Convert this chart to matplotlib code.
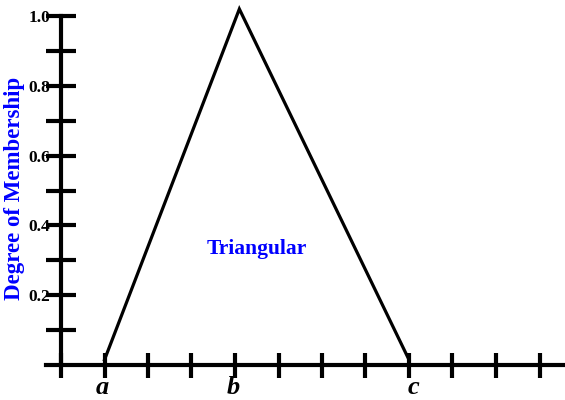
import matplotlib
matplotlib.use("Agg")
import matplotlib.pyplot as plt
import numpy as np

# membership function points (a, b, c)
tri_x = [1, 4.1, 8]
tri_y = [0.015, 1.02, 0.015]

x_ticks = list(range(0, 12))
x_names = ['a', 'b', 'c']
x_name_pos = [0.95, 3.95, 8.1]

y_major = [0.2, 0.4, 0.6, 0.8, 1.0]
y_labels = ['0.2', '0.4', '0.6', '0.8', '1.0']
y_minor = [0.1, 0.3, 0.5, 0.7, 0.9]

plt.rcParams['font.family'] = ['Liberation Serif', 'DejaVu Serif']

fig = plt.figure(figsize=(5.65, 4.0), dpi=100)
ax = fig.add_axes([0, 0, 1, 1])
ax.patch.set_visible(False)

# px 61 -> x=0, 43.5 px per unit ; px 365 -> y=0, 349 px per unit
ax.set_xlim(-61 / 43.5, (565 - 61) / 43.5)
ax.set_ylim(-35 / 349, 365 / 349)

ax.plot(tri_x, tri_y, color='black', lw=2.3, solid_joinstyle='miter')

for s in ['top', 'right']:
    ax.spines[s].set_visible(False)
ax.spines['left'].set_position(('data', 0))
ax.spines['bottom'].set_position(('data', 0))
ax.spines['left'].set_bounds(0, 1.0)
ax.spines['bottom'].set_bounds(-15 / 43.5, (565 - 61) / 43.5)
ax.spines['left'].set_linewidth(3)
ax.spines['bottom'].set_linewidth(3)

ax.set_xticks(x_ticks)
ax.tick_params(axis='x', which='both', direction='inout', length=18, width=3,
               labelbottom=False)
ax.set_yticks(y_major)
ax.set_yticks(y_minor, minor=True)
ax.set_yticklabels(y_labels, fontsize=12.5, fontweight='bold')
ax.tick_params(axis='y', which='both', direction='inout', length=21, width=3,
               pad=-3)

# letters under the axis, kept just inside the bottom edge
for name, xp in zip(x_names, x_name_pos):
    ax.text(xp, -0.097, name, fontsize=19, fontweight='bold', style='italic',
            ha='center', va='bottom')

fig.text(15 / 565, 1 - 188 / 400, 'Degree of Membership', rotation=90,
         color='#0000ff', fontsize=16.5, fontweight='bold', ha='center', va='center')
fig.text(257 / 565, 1 - 249 / 400, 'Triangular', color='#0000ff', fontsize=15.5,
         fontweight='bold', ha='center', va='center')

fig.savefig('out.png', dpi=100)
